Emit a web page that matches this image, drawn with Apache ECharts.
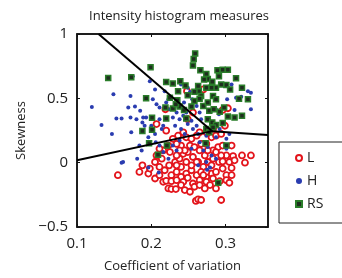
<!DOCTYPE html>
<html><head><meta charset="utf-8">
<script src="https://cdn.jsdelivr.net/npm/echarts@6/dist/echarts.min.js"></script>
<style>html,body{margin:0;padding:0;background:#fff}#c{width:342px;height:278px}</style>
</head><body><div id="c"></div>
<script>
const titleText = 'Intensity histogram measures';
const xName = 'Coefficient of variation';
const yName = 'Skewness';
const seriesNames = ['L', 'H', 'RS'];
const xTicks = [0.1, 0.2, 0.3];
const yTicks = [-0.5, 0, 0.5, 1];

const pointsL = [[0.155,-0.097],[0.207,0.300],[0.219,0.415],[0.248,0.556],[0.270,0.569],[0.303,0.423],[0.296,0.410],
[0.184,-0.072],[0.196,-0.085],[0.188,-0.021],[0.198,-0.046],[0.205,0.005],[0.211,-0.033],[0.218,-0.059],[0.224,-0.021],
[0.232,0.005],[0.238,0.031],[0.243,0.069],[0.249,0.082],[0.256,0.044],[0.263,0.005],[0.270,-0.033],[0.276,0.005],
[0.283,0.031],[0.291,0.005],[0.296,0.010],[0.305,0.005],[0.310,0.051],[0.322,0.056],[0.334,0.056],[0.326,0.000],
[0.227,-0.097],[0.234,-0.072],[0.240,-0.110],[0.247,-0.085],[0.254,-0.059],[0.261,-0.097],[0.267,-0.072],[0.274,-0.110],
[0.281,-0.085],[0.287,-0.072],[0.296,-0.046],[0.301,-0.097],[0.308,-0.097],[0.216,-0.149],[0.220,-0.141],[0.227,-0.144],
[0.234,-0.136],[0.243,-0.149],[0.249,-0.118],[0.256,-0.162],[0.265,-0.136],[0.274,-0.149],[0.283,-0.123],[0.292,-0.144],
[0.301,-0.136],[0.305,-0.156],[0.223,-0.200],[0.227,-0.205],[0.233,-0.205],[0.258,-0.187],[0.265,-0.174],[0.272,-0.200],
[0.260,-0.297],[0.263,-0.285],[0.267,-0.290],[0.294,-0.290],[0.236,0.210],[0.243,0.236],[0.247,0.197],[0.254,0.185],
[0.261,0.210],[0.265,0.236],[0.274,0.236],[0.281,0.197],[0.287,0.210],[0.294,0.223],[0.283,0.262],[0.240,0.133],
[0.245,0.095],[0.252,0.133],[0.258,0.121],[0.265,0.095],[0.229,0.185],[0.234,0.146],[0.238,0.095],[0.225,0.082],
[0.223,0.133],[0.216,0.095],[0.214,0.031],[0.207,0.056],[0.211,0.108],[0.283,0.095],[0.290,0.121],[0.296,0.133],
[0.301,0.056],[0.308,0.133],[0.281,-0.021],[0.261,0.005],[0.254,-0.021],[0.247,0.005],[0.240,-0.033],[0.234,-0.021],
[0.274,-0.072],[0.270,-0.097],[0.294,0.056],[0.287,0.082],[0.272,0.056],[0.276,0.095],[0.274,0.146],[0.267,0.146],
[0.234,0.056],[0.308,-0.041],[0.312,0.018],[0.205,-0.123],[0.211,-0.097],[0.245,-0.213],[0.252,-0.226],[0.240,-0.174],
[0.279,-0.174],[0.287,-0.200],[0.249,0.338],[0.220,0.249],[0.256,0.390],[0.299,0.287],[0.285,0.287]];

const pointsH = [[0.120,0.433],[0.133,0.292],[0.147,0.223],[0.149,0.531],[0.153,0.344],[0.160,0.344],[0.162,0.005],
[0.172,0.518],[0.175,0.672],[0.178,0.436],[0.169,0.428],[0.172,0.351],[0.180,0.338],[0.185,0.403],[0.189,0.351],
[0.188,0.313],[0.191,0.287],[0.198,0.633],[0.205,0.569],[0.202,0.492],[0.207,0.454],[0.211,0.428],[0.200,0.287],
[0.205,0.223],[0.196,0.197],[0.211,0.338],[0.216,0.287],[0.218,0.556],[0.223,0.492],[0.225,0.415],[0.229,0.351],
[0.232,0.287],[0.238,0.338],[0.243,0.364],[0.247,0.390],[0.249,0.300],[0.254,0.326],[0.240,0.262],[0.245,0.223],
[0.256,0.262],[0.261,0.287],[0.173,0.236],[0.193,0.351],[0.211,0.133],[0.216,0.082],[0.223,0.031],[0.229,0.133],
[0.234,0.095],[0.238,0.172],[0.254,0.108],[0.265,0.159],[0.270,0.095],[0.274,0.005],[0.281,0.056],[0.287,0.031],
[0.301,0.108],[0.314,0.505],[0.312,0.410],[0.308,0.608],[0.321,0.513],[0.330,0.556],[0.334,0.415],[0.334,0.544],
[0.302,0.492],[0.287,0.415],[0.291,0.377],[0.281,0.403],[0.267,0.338],[0.255,0.492],[0.252,0.549],[0.244,0.467],
[0.234,0.390],[0.220,0.467],[0.214,0.262],[0.206,0.159],[0.184,0.133],[0.187,0.095],[0.181,0.031],[0.292,0.262],
[0.305,0.223],[0.301,0.185],[0.283,0.518],[0.265,0.390],[0.261,0.441],[0.249,0.582],[0.240,0.608],[0.287,0.197],
[0.274,0.210],[0.276,0.121],[0.263,0.223],[0.160,0.000],[0.196,-0.038],[0.210,-0.077],[0.263,-0.021],[0.279,-0.038],
[0.275,-0.056]];

const pointsRS = [[0.142,0.659],[0.173,0.664],[0.199,0.741],[0.259,0.849],[0.257,0.805],[0.256,0.756],[0.266,0.718],
[0.274,0.690],[0.289,0.718],[0.296,0.723],[0.303,0.723],[0.291,0.672],[0.276,0.651],[0.271,0.646],[0.282,0.628],
[0.314,0.656],[0.220,0.626],[0.229,0.615],[0.239,0.633],[0.246,0.600],[0.236,0.556],[0.263,0.595],[0.274,0.582],
[0.287,0.582],[0.294,0.608],[0.301,0.603],[0.306,0.569],[0.322,0.582],[0.330,0.492],[0.318,0.497],[0.193,0.500],
[0.235,0.485],[0.238,0.436],[0.229,0.421],[0.219,0.428],[0.264,0.556],[0.267,0.518],[0.258,0.479],[0.254,0.436],
[0.270,0.441],[0.276,0.467],[0.278,0.403],[0.284,0.415],[0.292,0.395],[0.298,0.428],[0.303,0.359],[0.312,0.351],
[0.322,0.364],[0.201,0.349],[0.220,0.344],[0.247,0.344],[0.276,0.338],[0.282,0.313],[0.287,0.292],[0.296,0.308],
[0.197,0.151],[0.221,0.133],[0.273,0.151],[0.301,0.133],[0.209,0.062],[0.290,-0.156],[0.258,0.551],[0.265,0.497],
[0.244,0.410],[0.225,0.505],[0.233,0.454],[0.283,0.518],[0.249,0.523],[0.287,0.492],[0.281,0.582],[0.283,0.274],
[0.274,0.262],[0.278,0.236],[0.188,0.246],[0.201,0.256]];

const boundaryA = [[0.129,1.0],[0.282,0.245]];
const boundaryB = [[0.1,0.018],[0.282,0.245],[0.357,0.215]];

const fmt = v => (v < 0 ? '\u2212' + Math.abs(v) : String(v));
const font = 'Open Sans';
const frameLine = { show: true, onZero: false, lineStyle: { color: '#111', width: 1.5 } };
const innerTick = { show: true, inside: true, length: 3, lineStyle: { color: '#111' } };
const chart = echarts.init(document.getElementById('c'));
chart.setOption({
  animation: false,
  textStyle: { fontFamily: font },
  title: { text: titleText, left: 174, textAlign: 'center', top: 5,
    textStyle: { fontFamily: font, fontSize: 13, fontWeight: 'normal', color: '#222' } },
  grid: { left: 77, right: 74, top: 34, bottom: 49, show: true, borderColor: '#111', borderWidth: 1.5 },
  legend: {
    orient: 'vertical', left: 290, top: 146, itemWidth: 6, itemHeight: 6, itemGap: 9,
    data: seriesNames,
    textStyle: { fontFamily: font, fontSize: 14, color: '#222' }
  },
  graphic: [{ type: 'rect', shape: { x: 279, y: 142, width: 80, height: 81 },
    style: { fill: 'none', stroke: '#222', lineWidth: 1 }, silent: true }],
  xAxis: [{
    type: 'value', min: 0.1, max: 0.357, interval: 0.1,
    axisLine: frameLine, axisTick: innerTick,
    axisLabel: { margin: 9, fontSize: 15, color: '#222', showMaxLabel: false, fontFamily: font },
    splitLine: { show: false },
    name: xName, nameLocation: 'middle', nameGap: 33,
    nameTextStyle: { fontSize: 13, color: '#222', fontFamily: font }
  }, {
    type: 'value', position: 'top', min: 0.1, max: 0.357, interval: 0.1,
    axisLine: frameLine, axisTick: innerTick,
    axisLabel: { show: false }, splitLine: { show: false }
  }],
  yAxis: [{
    type: 'value', min: -0.5, max: 1, interval: 0.5,
    axisLine: frameLine, axisTick: innerTick,
    axisLabel: { margin: 9, fontSize: 15, color: '#222', formatter: fmt, fontFamily: font },
    splitLine: { show: false },
    name: yName, nameLocation: 'middle', nameGap: 40, nameRotate: 90,
    nameTextStyle: { fontSize: 13, color: '#222', fontFamily: font }
  }, {
    type: 'value', position: 'right', min: -0.5, max: 1, interval: 0.5,
    axisLine: frameLine, axisTick: innerTick,
    axisLabel: { show: false }, splitLine: { show: false }
  }],
  series: [
    { name: 'L', type: 'scatter', data: pointsL, symbol: 'circle', symbolSize: 6,
      itemStyle: { color: '#fff', borderColor: '#e3141b', borderWidth: 1.8, opacity: 1 } },
    { name: 'H', type: 'scatter', data: pointsH, symbol: 'circle', symbolSize: 4,
      itemStyle: { color: '#2a3cb0', opacity: 1 } },
    { name: 'RS', type: 'scatter', data: pointsRS, symbol: 'rect', symbolSize: 5,
      itemStyle: { color: '#1e2e1e', borderColor: '#2a7d2a', borderWidth: 1.5, opacity: 1 } },
    { type: 'line', data: boundaryA, symbol: 'none', silent: true,
      lineStyle: { color: '#000', width: 2 } },
    { type: 'line', data: boundaryB, symbol: 'none', silent: true,
      lineStyle: { color: '#000', width: 2 } }
  ]
});
</script></body></html>
